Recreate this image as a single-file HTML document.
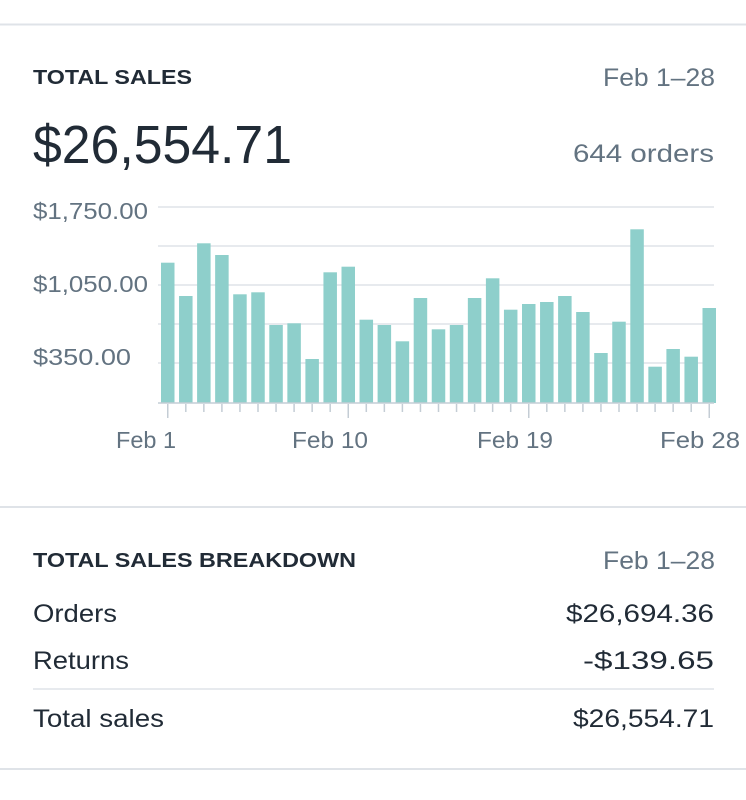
<!DOCTYPE html>
<html><head><meta charset="utf-8"><style>
html,body{margin:0;padding:0;background:#fff;}
svg{display:block;font-family:"Liberation Sans",sans-serif;}
</style></head><body>
<svg width="746" height="800" viewBox="0 0 746 800" xmlns="http://www.w3.org/2000/svg">
<rect width="746" height="800" fill="#fff"/>
<line x1="0" y1="24.5" x2="746" y2="24.5" stroke="#dfe3e8" stroke-width="2"/>
<line x1="0" y1="507" x2="746" y2="507" stroke="#dfe3e8" stroke-width="2"/>
<line x1="0" y1="769" x2="746" y2="769" stroke="#dfe3e8" stroke-width="2"/>

<text x="33" y="84" font-size="20" font-weight="bold" fill="#212b36" textLength="159" lengthAdjust="spacingAndGlyphs">TOTAL SALES</text>
<text x="603" y="86" font-size="25" fill="#637381" textLength="112" lengthAdjust="spacingAndGlyphs">Feb 1–28</text>
<text x="33" y="163" font-size="54" fill="#212b36" textLength="259" lengthAdjust="spacingAndGlyphs">$26,554.71</text>
<text x="573" y="162" font-size="25" fill="#637381" textLength="141" lengthAdjust="spacingAndGlyphs">644 orders</text>

<g stroke="#dfe3e8" stroke-width="1.5">
<line x1="158" y1="207" x2="714" y2="207"/>
<line x1="158" y1="246" x2="714" y2="246"/>
<line x1="158" y1="285" x2="714" y2="285"/>
<line x1="158" y1="324" x2="714" y2="324"/>
<line x1="158" y1="363" x2="714" y2="363"/>
</g>
<text x="33" y="219" font-size="23" fill="#637381" textLength="115" lengthAdjust="spacingAndGlyphs">$1,750.00</text>
<text x="33" y="292" font-size="23" fill="#637381" textLength="115" lengthAdjust="spacingAndGlyphs">$1,050.00</text>
<text x="33" y="365" font-size="23" fill="#637381" textLength="98" lengthAdjust="spacingAndGlyphs">$350.00</text>

<g fill="#8ecfcb" id="bars"></g>
<line x1="158" y1="403" x2="714" y2="403" stroke="#c4cdd5" stroke-width="1.5"/>
<g stroke="#c4cdd5" stroke-width="1.5" id="ticks"></g>

<text x="116" y="448" font-size="23" fill="#637381" textLength="60" lengthAdjust="spacingAndGlyphs">Feb 1</text>
<text x="292" y="448" font-size="23" fill="#637381" textLength="76" lengthAdjust="spacingAndGlyphs">Feb 10</text>
<text x="477" y="448" font-size="23" fill="#637381" textLength="76" lengthAdjust="spacingAndGlyphs">Feb 19</text>
<text x="660" y="448" font-size="23" fill="#637381" textLength="80" lengthAdjust="spacingAndGlyphs">Feb 28</text>

<text x="33" y="567" font-size="20" font-weight="bold" fill="#212b36" textLength="323" lengthAdjust="spacingAndGlyphs">TOTAL SALES BREAKDOWN</text>
<text x="603" y="569" font-size="25" fill="#637381" textLength="112" lengthAdjust="spacingAndGlyphs">Feb 1–28</text>
<text x="33" y="622" font-size="25" fill="#212b36" textLength="84" lengthAdjust="spacingAndGlyphs">Orders</text>
<text x="566" y="622" font-size="25" fill="#212b36" textLength="148" lengthAdjust="spacingAndGlyphs">$26,694.36</text>
<text x="33" y="669" font-size="25" fill="#212b36" textLength="96" lengthAdjust="spacingAndGlyphs">Returns</text>
<text x="583" y="669" font-size="25" fill="#212b36" textLength="131" lengthAdjust="spacingAndGlyphs">-$139.65</text>
<line x1="33" y1="689" x2="714" y2="689" stroke="#dfe3e8" stroke-width="1.5"/>
<text x="33" y="727" font-size="25" fill="#212b36" textLength="131" lengthAdjust="spacingAndGlyphs">Total sales</text>
<text x="573" y="727" font-size="25" fill="#212b36" textLength="141" lengthAdjust="spacingAndGlyphs">$26,554.71</text>
</svg>
<script>
var tops=[262.7,296,243.3,255,294.3,292.3,325,323.3,359,272.3,266.7,319.7,325,341.3,298,329.3,325,298,278.3,309.7,304,302,296,312,353,321.7,229.3,366.7,349,356.7,308];
var ns="http://www.w3.org/2000/svg",b=document.getElementById("bars"),t=document.getElementById("ticks");
for(var i=0;i<31;i++){var x=161+i*18.05;var r=document.createElementNS(ns,"rect");
r.setAttribute("x",x);r.setAttribute("y",tops[i]);r.setAttribute("width",13.5);r.setAttribute("height",403-tops[i]);b.appendChild(r);
var l=document.createElementNS(ns,"line");var cx=x+6.75;l.setAttribute("x1",cx);l.setAttribute("x2",cx);l.setAttribute("y1",404);
l.setAttribute("y2",(i%10==0)?418:412);t.appendChild(l);}
</script>
</body></html>
